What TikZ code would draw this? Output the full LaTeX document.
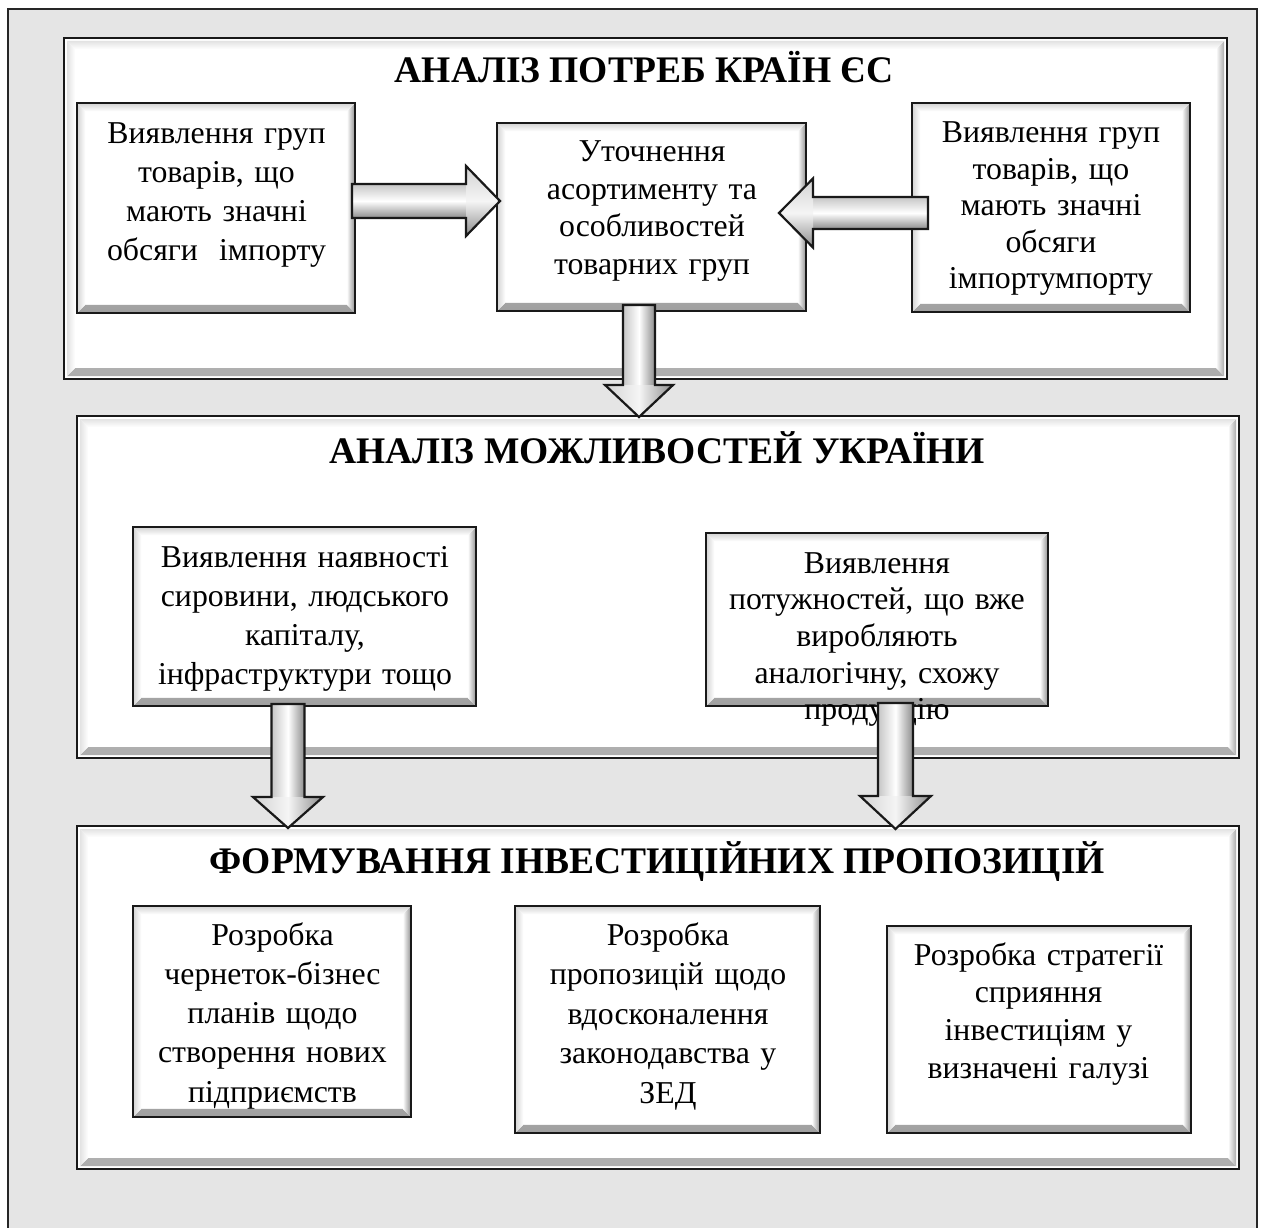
\documentclass[tikz,border=0pt]{standalone}
\usepackage{fontspec}
\setmainfont{Liberation Serif}
\usetikzlibrary{calc}

\newcommand\bevelpic[4]{% inset, band, light colour, dark colour
 \shade[top color=white,bottom color=#4] let \p1=(path picture bounding box.north west),\p2=(path picture bounding box.south east) in
   (\x1+#1,\y2+#1) -- (\x2-#1,\y2+#1) -- (\x2-#1-#2,\y2+#1+#2) -- (\x1+#1+#2,\y2+#1+#2) -- cycle;
 \shade[left color=white,right color=#4] let \p1=(path picture bounding box.north west),\p2=(path picture bounding box.south east) in
   (\x2-#1,\y1-#1) -- (\x2-#1,\y2+#1) -- (\x2-#1-#2,\y2+#1+#2) -- (\x2-#1-#2,\y1-#1-#2) -- cycle;
 \shade[top color=#3,bottom color=white] let \p1=(path picture bounding box.north west),\p2=(path picture bounding box.south east) in
   (\x1+#1,\y1-#1) -- (\x2-#1,\y1-#1) -- (\x2-#1-#2,\y1-#1-#2) -- (\x1+#1+#2,\y1-#1-#2) -- cycle;
 \shade[left color=#3,right color=white] let \p1=(path picture bounding box.north west),\p2=(path picture bounding box.south east) in
   (\x1+#1,\y1-#1) -- (\x1+#1,\y2+#1) -- (\x1+#1+#2,\y2+#1+#2) -- (\x1+#1+#2,\y1-#1-#2) -- cycle;
}

% down arrow: start, tip, body half width, head half width, head length
\newcommand\downarr[5]{%
 \shade[left color=gray!45,right color=gray!90,middle color=white] let \p1=(#1),\p2=(#2) in
   (\x1-#3,\y1) rectangle (\x1+#3,\y2+#5);
 \shade[left color=gray!35,right color=gray!90,middle color=gray!8] let \p1=(#1),\p2=(#2) in
   (\x1-#4,\y2+#5) -- (\x1+#4,\y2+#5) -- (\x1,\y2) -- cycle;
 \draw[arrline] let \p1=(#1),\p2=(#2) in
   (\x1-#3,\y1) -- (\x1+#3,\y1) -- (\x1+#3,\y2+#5) -- (\x1+#4,\y2+#5) -- (\x1,\y2)
   -- (\x1-#4,\y2+#5) -- (\x1-#3,\y2+#5) -- cycle;
}
% right arrow: start (left end), tip, body half, head half, head length
\newcommand\rightarr[5]{%
 \shade[top color=gray!45,bottom color=gray!90,middle color=white] let \p1=(#1),\p2=(#2) in
   (\x1,\y1+#3) rectangle (\x2-#5,\y1-#3);
 \shade[top color=gray!35,bottom color=gray!90,middle color=gray!8] let \p1=(#1),\p2=(#2) in
   (\x2-#5,\y1+#4) -- (\x2,\y1) -- (\x2-#5,\y1-#4) -- cycle;
 \draw[arrline] let \p1=(#1),\p2=(#2) in
   (\x1,\y1+#3) -- (\x2-#5,\y1+#3) -- (\x2-#5,\y1+#4) -- (\x2,\y1) -- (\x2-#5,\y1-#4)
   -- (\x2-#5,\y1-#3) -- (\x1,\y1-#3) -- cycle;
}
% left arrow: start (right end), tip, body half, head half, head length
\newcommand\leftarr[5]{%
 \shade[top color=gray!45,bottom color=gray!90,middle color=white] let \p1=(#1),\p2=(#2) in
   (\x1,\y1+#3) rectangle (\x2+#5,\y1-#3);
 \shade[top color=gray!35,bottom color=gray!90,middle color=gray!8] let \p1=(#1),\p2=(#2) in
   (\x2+#5,\y1+#4) -- (\x2,\y1) -- (\x2+#5,\y1-#4) -- cycle;
 \draw[arrline] let \p1=(#1),\p2=(#2) in
   (\x1,\y1+#3) -- (\x2+#5,\y1+#3) -- (\x2+#5,\y1+#4) -- (\x2,\y1) -- (\x2+#5,\y1-#4)
   -- (\x2+#5,\y1-#3) -- (\x1,\y1-#3) -- cycle;
}

\tikzset{
  frm/.style={rectangle, draw=black!90, line width=2.4pt, fill=white, inner sep=0pt, outer sep=0pt,
              path picture={\bevelpic{3pt}{8pt}{gray!22}{gray!65}}},
  bx/.style={rectangle, draw=black!90, line width=2.4pt, fill=white, inner sep=0pt, outer sep=0pt,
             path picture={\bevelpic{1.2pt}{7pt}{gray!30}{gray!75}}},
  tx/.style={anchor=base, align=center, inner sep=0pt, text width=460pt,
             font=\fontsize{31.8pt}{#1}\selectfont},
  ttl/.style={anchor=base, inner sep=0pt, font=\fontsize{37.5pt}{42pt}\selectfont\bfseries},
  arrline/.style={draw=black!90, line width=2.2pt, line join=miter}
}

\begin{document}
\begin{tikzpicture}[x=1pt,y=-1pt]
\useasboundingbox (0,0) rectangle (1262,1228);
\fill[white] (0,0) rectangle (1262,1228);
\fill[gray!20] (8,9) rectangle (1257,1240);
\draw[line width=1.3pt, black!85] (8,1240) -- (8,9) -- (1257,9) -- (1257,1240);

% ---------- frames ----------
\node[frm, minimum width=1163pt, minimum height=341pt] (F1) at (645.5,208.5) {};
\node[frm, minimum width=1162pt, minimum height=342pt] (F2) at (658,587) {};
\node[frm, minimum width=1162pt, minimum height=343pt] (F3) at (658,997.5) {};

\node[ttl] (T1) at (644,83) {АНАЛІЗ ПОТРЕБ КРАЇН ЄС};
\node[ttl] (T2) at (657,463) {АНАЛІЗ МОЖЛИВОСТЕЙ УКРАЇНИ};
\node[ttl] (T3) at (657,873) {ФОРМУВАННЯ ІНВЕСТИЦІЙНИХ ПРОПОЗИЦІЙ};

% ---------- boxes ----------
\node[bx, minimum width=278pt, minimum height=210pt] (A) at (216,208) {};
\node[bx, minimum width=309pt, minimum height=188pt] (B) at (651.5,217) {};
\node[bx, minimum width=278pt, minimum height=209pt] (C) at (1051,207.5) {};
\node[bx, minimum width=343pt, minimum height=179pt] (D) at (304.5,616.5) {};
\node[bx, minimum width=342pt, minimum height=173pt] (E) at (877,619.5) {};
\node[bx, minimum width=278pt, minimum height=211pt] (F) at (272,1011.5) {};
\node[bx, minimum width=305pt, minimum height=227pt] (G) at (667.5,1019.5) {};
\node[bx, minimum width=304pt, minimum height=207pt] (H) at (1039,1029.5) {};

% ---------- texts ----------
\node[tx=39pt] (At) at (216.5,144) {Виявлення груп\\товарів, що\\мають значні\\обсяги~\ імпорту};
\node[tx=37.5pt] (Bt) at (652,162) {Уточнення\\асортименту та\\особливостей\\товарних груп};
\node[tx=36.4pt] (Ct) at (1051,143) {Виявлення груп\\товарів, що\\мають значні\\обсяги\\імпортумпорту};
\node[tx=39.3pt] (Dt) at (305,567) {Виявлення наявності\\сировини, людського\\капіталу,\\інфраструктури тощо};
\node[tx=36.7pt] (Et) at (877,573) {Виявлення\\потужностей, що вже\\виробляють\\аналогічну, схожу\\продукцію};
\node[tx=39.25pt] (Ft) at (272.5,945) {Розробка\\чернеток-бізнес\\планів щодо\\створення нових\\підприємств};
\node[tx=39.5pt] (Gt) at (668,945) {Розробка\\пропозицій щодо\\вдосконалення\\законодавства у\\ЗЕД};
\node[tx=37.7pt] (Ht) at (1038.5,965) {Розробка стратегії\\сприяння\\інвестиціям у\\визначені галузі};

% ---------- block arrows ----------
\rightarr{$(A.east)+(-3,-7)$}{$(B.west)+(3,0)$}{17pt}{35pt}{34pt}
\leftarr{$(C.west)+(16,5.5)$}{$(B.east)+(-27,0)$}{16pt}{34.5pt}{34pt}
\downarr{$(B.south)+(-12.5,-6)$}{$(F2.north)+(0,1)$}{16pt}{34pt}{32pt}
\downarr{$(D.south)+(-16.5,-2)$}{$(F3.north)+(0,2)$}{16.5pt}{35pt}{31pt}
\downarr{$(E.south)+(18.5,-3)$}{$(F3.north)+(0,3)$}{17.5pt}{35.5pt}{33pt}
\end{tikzpicture}
\end{document}
